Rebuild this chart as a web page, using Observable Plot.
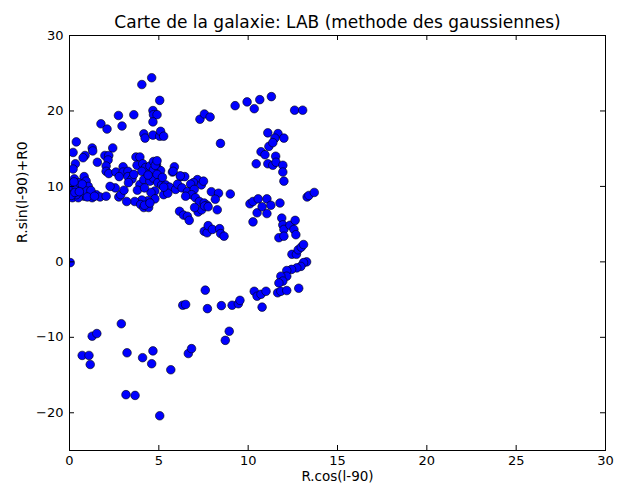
<!DOCTYPE html>
<html>
<head>
<meta charset="utf-8">
<script src="https://cdn.jsdelivr.net/npm/d3@7"></script>
<script src="https://cdn.jsdelivr.net/npm/@observablehq/plot@0.6"></script>
<style>
  html, body { margin: 0; padding: 0; background: #fff; }
</style>
</head>
<body>
<div id="chart"></div>
<script>
const title = "Carte de la galaxie: LAB (methode des gaussiennes)";
const xLabel = "R.cos(l-90)";
const yLabel = "R.sin(l-90)+R0";
const xTicks = [0, 5, 10, 15, 20, 25, 30];
const yTicks = [-20, -10, 0, 10, 20, 30];
const xDomain = [0, 30];
const yDomain = [-25, 30];

// [x, y] pairs
const upperPoints = [[4.05,23.5],[4.6,24.4],[5.05,21.4],[4.67,20.05],[4.7,19.5],[4.9,19.5],[4.67,18.55],[2.74,19.4],[3.6,19.5],[1.76,18.3],[2.1,17.6],[2.94,18.0],[4.16,16.96],[4.23,16.4],[4.67,16.8],[5.05,16.65],[5.1,17.3],[5.27,16.65],[0.38,15.9],[0.2,14.5],[1.27,15.1],[1.3,14.7],[2.42,15.1],[0.87,14.1],[0.76,13.8],[0.33,13.0],[0.2,12.3],[1.56,13.2],[1.98,14.1],[2.2,14.1],[2.16,13.5],[2.05,12.7],[2.05,12.0],[2.2,11.7]];

const bandPoints = [[2.6,11.9],[3.0,12.6],[3.0,11.9],[2.78,11.3],[3.27,12.0],[3.27,11.3],[3.5,11.0],[3.72,13.9],[3.94,13.9],[3.78,12.8],[4.1,13.0],[4.26,12.5],[4.05,12.0],[4.5,12.7],[4.7,13.3],[4.87,12.9],[5.0,12.2],[5.1,12.1],[4.7,12.2],[5.87,12.6],[5.76,11.9],[6.23,11.3],[6.45,11.3],[7.16,10.9],[6.94,10.5],[7.38,10.2],[6.78,10.3],[3.94,10.25],[4.16,10.9],[4.5,10.7],[4.7,11.1],[4.94,10.5],[5.16,10.2],[5.38,10.2],[5.6,9.9],[5.94,9.6],[6.05,10.3],[6.3,9.8],[6.6,9.3],[6.98,9.6],[6.83,8.9],[7.05,8.5],[7.27,8.0],[7.54,7.8],[7.7,7.5],[7.94,9.3],[8.34,9.1],[8.16,8.3],[8.27,6.9],[9.0,9.0],[5.27,8.9],[5.5,9.1],[5.27,9.9],[4.78,9.4],[4.56,9.2],[4.78,8.35],[4.38,8.1],[4.05,8.2],[3.65,8.0],[3.2,8.0],[2.76,8.6],[2.87,8.9],[3.05,9.5],[2.56,9.8],[3.98,7.6],[4.16,7.2],[4.43,7.2],[4.2,7.5],[6.16,6.7],[6.38,6.2],[6.6,6.05],[6.7,5.5],[7.2,6.6],[7.4,6.9],[7.56,7.4],[7.76,7.3],[7.54,4.05],[7.7,3.85],[7.76,4.8],[8.0,4.3],[8.4,4.4],[8.46,3.75],[8.65,3.4],[2.27,10.0],[4.8,12.8],[4.9,13.4],[5.8,12.0],[6.2,11.4],[7.5,10.7],[4.4,11.5],[3.6,11.6],[4.9,11.6],[5.2,11.2],[3.3,10.5],[3.8,9.5],[4.2,9.8],[6.5,8.7],[7.0,7.2],[4.5,7.8]];

const leftCluster = [[0.16,8.5],[0.16,9.4],[0.27,11.0],[0.16,10.0],[0.38,9.8],[0.53,10.5],[0.71,9.6],[0.82,11.3],[0.93,10.7],[1.05,10.0],[0.6,8.9],[0.82,8.7],[1.16,9.0],[1.27,8.5],[1.5,8.9],[1.71,8.6],[2.05,8.7],[0.49,8.5],[0.93,9.4],[0.38,8.9],[1.2,9.45],[0.71,10.3],[0.1,8.8],[0.3,9.2],[1.0,8.6],[0.55,9.3],[1.4,8.7],[0.25,10.6]];

const rightArc = [[7.3,18.9],[7.55,19.6],[7.87,19.2],[8.45,15.7],[9.27,20.7],[9.94,21.2],[10.34,20.3],[10.65,21.5],[11.3,21.9],[12.6,20.1],[13.05,20.1],[10.45,13.0],[11.1,17.1],[11.67,17.0],[12.0,16.4],[11.5,16.4],[11.16,15.3],[11.38,15.8],[10.72,14.6],[10.94,14.2],[11.54,14.0],[11.1,13.0],[11.38,12.8],[11.56,13.2],[11.94,12.8],[11.94,11.9],[12.0,10.7],[10.1,7.7],[10.27,8.0],[10.56,8.35],[11.05,8.35],[11.27,7.5],[11.78,7.8],[10.5,6.5],[10.78,7.3],[11.05,6.4],[10.27,5.3],[11.88,5.8],[11.94,4.9],[12.0,4.3],[11.72,3.2],[12.0,3.4],[12.34,4.85],[12.63,5.5],[12.56,4.3],[12.67,3.6],[12.45,1.0],[12.7,1.0],[12.8,1.6],[12.97,1.95],[13.1,2.3],[13.27,0.0],[13.1,-0.1],[12.95,-0.6],[12.72,-0.8],[12.43,-1.0],[12.16,-1.15],[12.16,-1.9],[11.83,-1.9],[11.94,-2.55],[11.72,-2.8],[11.65,-4.1],[11.83,-3.9],[12.16,-3.8],[12.83,-3.5],[10.34,-3.9],[10.5,-4.55],[10.72,-4.3],[11.0,-3.9],[10.78,-6.0],[13.3,8.6],[13.4,8.8],[13.7,9.2]];

const lowerPoints = [[0.04,-0.1],[7.6,-3.75],[7.72,-6.2],[8.5,-5.8],[9.1,-5.75],[9.45,-5.55],[9.54,-5.1],[8.94,-9.2],[8.72,-10.4],[6.34,-5.75],[6.5,-5.65],[2.9,-8.2],[1.27,-9.85],[1.53,-9.5],[0.71,-12.4],[1.09,-12.4],[1.16,-13.6],[3.22,-12.05],[4.09,-12.7],[4.67,-11.8],[4.6,-13.5],[5.67,-14.3],[6.65,-12.15],[6.83,-11.5],[3.16,-17.6],[3.67,-17.7],[5.05,-20.4]];

const points = [...upperPoints, ...bandPoints, ...leftCluster, ...rightArc, ...lowerPoints]
  .map(([x, y]) => ({x, y}));

const W = 624, H = 483;
const mL = 69, mR = 19, mT = 35, mB = 33;
const plotW = W - mL - mR, plotH = H - mT - mB;
const tickLen = 5;

const chart = Plot.plot({
  width: W,
  height: H,
  marginLeft: mL,
  marginRight: mR,
  marginTop: mT,
  marginBottom: mB,
  style: {fontFamily: "DejaVu Sans", fontSize: "13px", color: "black", background: "white"},
  x: {domain: xDomain},
  y: {domain: yDomain},
  marks: [
    Plot.dot(points, {x: "x", y: "y", r: 4.3, fill: "#0000ff", stroke: "black", strokeWidth: 0.6, clip: true}),
    Plot.frame({stroke: "black", strokeWidth: 1}),
    Plot.tickX(xTicks, {x: d => d, insetTop: plotH - tickLen, stroke: "black"}),
    Plot.tickX(xTicks, {x: d => d, insetBottom: plotH - tickLen, stroke: "black"}),
    Plot.tickY(yTicks, {y: d => d, insetRight: plotW - tickLen, stroke: "black"}),
    Plot.tickY(yTicks, {y: d => d, insetLeft: plotW - tickLen, stroke: "black"}),
    Plot.axisX({ticks: xTicks, tickSize: 0, tickPadding: 5, label: null, fontSize: 13, tickFormat: d => String(d)}),
    Plot.axisY({ticks: yTicks, tickSize: 0, tickPadding: 6, label: null, fontSize: 13, tickFormat: d => d < 0 ? "\u2212" + Math.abs(d) : String(d)}),
    Plot.text([title], {text: d => d, frameAnchor: "top", lineAnchor: "bottom", dy: -8, fontSize: 17, fill: "black"}),
    Plot.text([xLabel], {text: d => d, frameAnchor: "bottom", lineAnchor: "middle", dy: 26, fontSize: 13.5, fill: "black"}),
    Plot.text([yLabel], {text: d => d, frameAnchor: "left", lineAnchor: "middle", rotate: -90, dx: -47, fontSize: 14, fill: "black"})
  ]
});
document.getElementById("chart").appendChild(chart);
</script>
</body>
</html>
